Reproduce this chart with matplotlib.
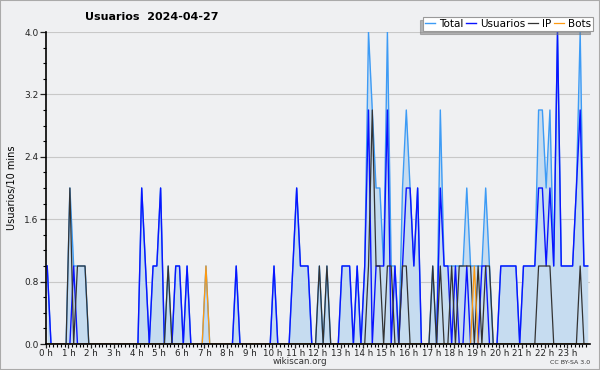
import matplotlib
matplotlib.use("Agg")
import matplotlib.pyplot as plt
import matplotlib.patches as mpatches
import numpy as np

# valores por tramo de 10 minutos (144 tramos = 24 h)
usuarios = [
    1, 0, 0, 0, 0, 0, 0, 1, 0, 0, 0, 0,
    0, 0, 0, 0, 0, 0, 0, 0, 0, 0, 0, 0,
    0, 2, 1, 0, 1, 1, 2, 0, 0, 0, 1, 1,
    0, 1, 0, 0, 0, 0, 0, 0, 0, 0, 0, 0,
    0, 0, 1, 0, 0, 0, 0, 0, 0, 0, 0, 0,
    1, 0, 0, 0, 0, 1, 2, 1, 1, 1, 0, 0,
    0, 0, 0, 0, 0, 0, 1, 1, 1, 0, 1, 0,
    1, 3, 0, 1, 1, 1, 3, 0, 1, 0, 1, 2,
    2, 1, 2, 0, 0, 0, 0, 0, 2, 1, 1, 0,
    1, 0, 0, 1, 0, 0, 0, 1, 1, 0, 0, 0,
    1, 1, 1, 1, 1, 0, 1, 1, 1, 1, 2, 2,
    1, 2, 1, 4, 1, 1, 1, 1, 2, 3, 1, 1,
]
ip = [
    0, 0, 0, 0, 0, 0, 2, 0, 1, 1, 1, 0,
    0, 0, 0, 0, 0, 0, 0, 0, 0, 0, 0, 0,
    0, 0, 0, 0, 0, 0, 0, 0, 1, 0, 0, 0,
    0, 0, 0, 0, 0, 0, 0, 0, 0, 0, 0, 0,
    0, 0, 0, 0, 0, 0, 0, 0, 0, 0, 0, 0,
    0, 0, 0, 0, 0, 0, 0, 0, 0, 0, 0, 0,
    1, 0, 1, 0, 0, 0, 0, 0, 0, 0, 0, 0,
    0, 1, 3, 1, 1, 0, 1, 1, 0, 0, 1, 1,
    0, 0, 0, 0, 0, 0, 1, 0, 1, 0, 0, 1,
    0, 1, 1, 1, 1, 0, 1, 0, 1, 1, 0, 0,
    0, 0, 0, 0, 0, 0, 0, 0, 0, 0, 1, 1,
    1, 1, 0, 0, 0, 0, 0, 0, 0, 1, 0, 0,
]
bots = [0] * 144
bots[42] = 1
bots[113] = 1
total = [
    1, 0, 0, 0, 0, 0, 2, 1, 1, 1, 1, 0,
    0, 0, 0, 0, 0, 0, 0, 0, 0, 0, 0, 0,
    0, 2, 1, 0, 1, 1, 2, 0, 1, 0, 1, 1,
    0, 1, 0, 0, 0, 0, 1, 0, 0, 0, 0, 0,
    0, 0, 1, 0, 0, 0, 0, 0, 0, 0, 0, 0,
    1, 0, 0, 0, 0, 1, 2, 1, 1, 1, 0, 0,
    1, 0, 1, 0, 0, 0, 1, 1, 1, 0, 1, 0,
    1, 4, 3, 2, 2, 1, 4, 1, 1, 0, 2, 3,
    2, 1, 2, 0, 0, 0, 1, 0, 3, 1, 1, 1,
    1, 1, 1, 2, 1, 1, 1, 1, 2, 1, 0, 0,
    1, 1, 1, 1, 1, 0, 1, 1, 1, 1, 3, 3,
    2, 3, 1, 4, 1, 1, 1, 1, 2, 4, 1, 1,
]

horas = [f"{h} h" for h in range(24)]
t = (np.arange(144) + 0.4) / 6.0

fondo = "#eff0f2"
fig = plt.figure(figsize=(6, 3.7), dpi=100, facecolor=fondo)
ax = fig.add_axes([45.7 / 600, 26 / 370, (590 - 45.7) / 600, (344 - 32) / 370])
ax.set_facecolor(fondo)

ax.fill_between(t, total, 0, color="#c6dcf0", lw=0)
ax.plot(t, total, color="#3d9bf5", lw=1.0, label="Total")
ax.plot(t, usuarios, color="#0a14ff", lw=1.0, label="Usuarios")
ax.plot(t, ip, color="#333333", lw=0.9, label="IP")
ax.plot(t, bots, color="#ff9a10", lw=0.9, label="Bots")

ax.set_xlim(0, 24)
ax.set_ylim(0, 4)
ax.set_yticks(np.arange(0, 4.01, 0.8))
ax.set_yticks(np.arange(0, 4.01, 0.2), minor=True)
ax.set_yticklabels([f"{v:.1f}" for v in np.arange(0, 4.01, 0.8)])
ax.set_xticks(range(24))
ax.set_xticklabels(horas)
ax.set_xticks(np.arange(0, 24, 1 / 6), minor=True)
ax.tick_params(axis="y", labelsize=6.5, length=4, width=0.9, pad=1, colors="#222222")
ax.tick_params(axis="y", which="minor", length=2.5, width=0.8)
ax.tick_params(axis="x", labelsize=6.3, length=3, width=0.9, pad=0.5, colors="#222222")
ax.tick_params(axis="x", which="minor", length=2.5, width=0.8)
ax.grid(axis="y", color="#c8c8c8", lw=0.8)
ax.set_axisbelow(True)
for s in ["top", "right"]:
    ax.spines[s].set_visible(False)
for s in ["left", "bottom"]:
    ax.spines[s].set_linewidth(1.2)
ax.set_ylabel("Usuarios/10 mins", fontsize=7, labelpad=5)

fig.text(85 / 600, 1 - 17 / 370, "Usuarios  2024-04-27", fontsize=8, fontweight="bold",
         va="center", ha="left")
fig.text(0.5, 1 - 362 / 370, "wikiscan.org", fontsize=6.3, ha="center", va="center", color="#333333")
fig.text(590 / 600, 1 - 362 / 370, "CC BY-SA 3.0", fontsize=4.5, ha="right", va="center", color="#333333")

leg = fig.legend(loc="upper right", bbox_to_anchor=(593 / 600, 1 - 17 / 370), ncol=4,
                 fontsize=7.5, handlelength=1.0, handletextpad=0.35, columnspacing=0.25,
                 borderpad=0.2, borderaxespad=0, fancybox=False, framealpha=1,
                 shadow={"ox": -2, "oy": -2, "color": "#777777", "shade": 0.0})
leg.get_frame().set_edgecolor("#999999")
leg.get_frame().set_linewidth(0.8)

fig.patches.append(mpatches.Rectangle((0, 0), 1, 1, transform=fig.transFigure, fill=False,
                                      edgecolor="#aaaaaa", lw=1.5))

fig.savefig("out.png", dpi=100, facecolor=fondo)
